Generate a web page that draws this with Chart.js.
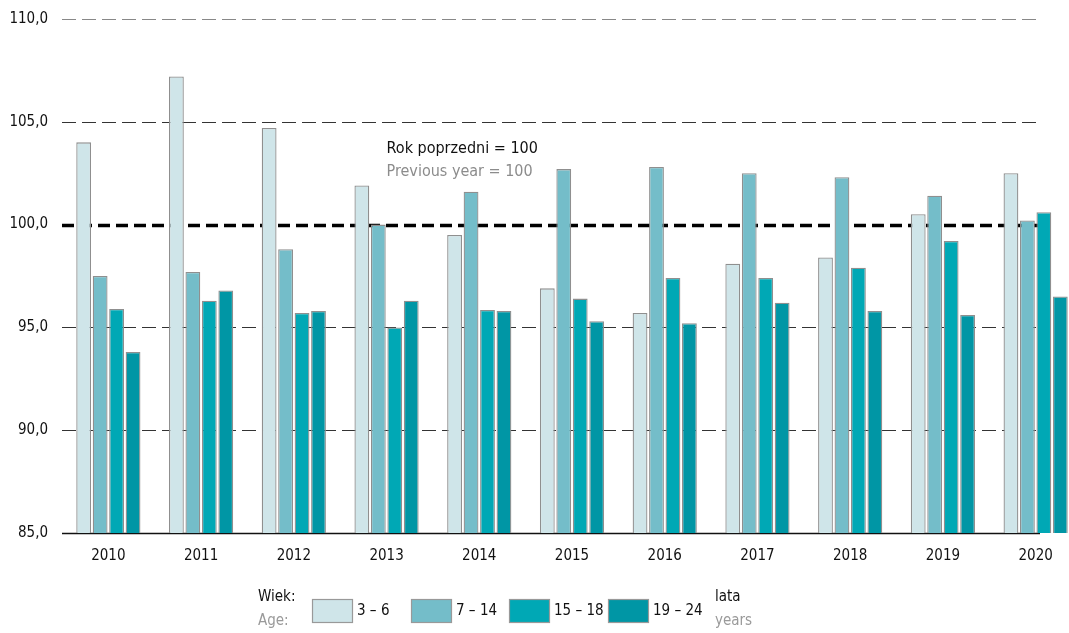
<!DOCTYPE html>
<html>
<head>
<meta charset="utf-8">
<script src="https://cdn.jsdelivr.net/npm/chart.js@4/dist/chart.umd.min.js"></script>
<style>
  html, body { margin: 0; padding: 0; background: #fff; overflow: hidden; }
  #wrap { width: 1082px; height: 633px; position: relative; }
</style>
</head>
<body>
<div id="wrap"><canvas id="chart"></canvas></div>
<script>
// data
const years = ['2010', '2011', '2012', '2013', '2014', '2015', '2016', '2017', '2018', '2019', '2020']
const age3to6 = [104.0, 107.2, 104.7, 101.9, 99.5, 96.9, 95.7, 98.1, 98.4, 100.5, 102.5]
const age7to14 = [97.5, 97.7, 98.8, 100.0, 101.6, 102.7, 102.8, 102.5, 102.3, 101.4, 100.2]
const age15to18 = [95.9, 96.3, 95.7, 95.0, 95.85, 96.4, 97.4, 97.4, 97.9, 99.2, 100.6]
const age19to24 = [93.8, 96.8, 95.8, 96.3, 95.8, 95.3, 95.2, 96.2, 95.8, 95.6, 96.5]
const seriesLabels = ['3 – 6', '7 – 14', '15 – 18', '19 – 24']
const seriesColors = ['#cfe5e9', '#74bdc9', '#00a8b5', '#0096a5']
const yTicks = [85, 90, 95, 100, 105, 110]
const baseLine = 100

const FONT = "'Liberation Sans Narrow', 'DejaVu Sans Condensed', 'Roboto', sans-serif"

const gridPlugin = {
  id: 'grid',
  beforeDatasetsDraw(chart) {
    const ctx = chart.ctx
    const y = chart.scales.y
    const left = chart.chartArea.left
    const right = chart.chartArea.right - 42
    ctx.save()
    yTicks.forEach(v => {
      const py = Math.round(y.getPixelForValue(v)) + 0.5
      ctx.beginPath()
      if (v === yTicks[0]) {
        ctx.setLineDash([])
        ctx.lineWidth = 1.5
        ctx.strokeStyle = '#111'
      } else if (v === baseLine) {
        ctx.setLineDash([12, 6])
        ctx.lineWidth = 3.5
        ctx.strokeStyle = '#000'
      } else {
        ctx.setLineDash([14, 6])
        ctx.lineWidth = 1
        ctx.strokeStyle = v === yTicks[yTicks.length - 1] ? '#888' : '#333'
      }
      ctx.moveTo(left, py)
      ctx.lineTo(right, py)
      ctx.stroke()
    })
    ctx.restore()
  },
  afterDraw(chart) {
    const ctx = chart.ctx
    const x = chart.scales.x
    const y = chart.scales.y
    ctx.save()
    // note above 2013
    const nx = x.getPixelForValue(3)
    ctx.textBaseline = 'middle'
    ctx.textAlign = 'left'
    ctx.font = '16px ' + FONT
    ctx.fillStyle = '#111'
    ctx.fillText('Rok poprzedni = 100', nx, y.getPixelForValue(103.7))
    ctx.fillStyle = '#8c8c8c'
    ctx.fillText('Previous year = 100', nx, y.getPixelForValue(102.55))

    // legend
    const top = 599
    ctx.font = '15px ' + FONT
    ctx.fillStyle = '#111'
    ctx.fillText('Wiek:', 258, 597)
    ctx.fillStyle = '#9a9a9a'
    ctx.fillText('Age:', 258, 621)
    const boxX = [312, 411, 509, 608]
    seriesLabels.forEach((lab, i) => {
      ctx.fillStyle = seriesColors[i]
      ctx.fillRect(boxX[i], top, 40, 23)
      ctx.strokeStyle = '#999'
      ctx.lineWidth = 1.2
      ctx.strokeRect(boxX[i] + 0.5, top + 0.5, 40, 23)
      ctx.fillStyle = '#111'
      ctx.fillText(lab, boxX[i] + 45, top + 12)
    })
    ctx.fillStyle = '#111'
    ctx.fillText('lata', 715, 597)
    ctx.fillStyle = '#9a9a9a'
    ctx.fillText('years', 715, 621)
    ctx.restore()
  }
}

const series = [age3to6, age7to14, age15to18, age19to24]

new Chart(document.getElementById('chart'), {
  type: 'bar',
  data: {
    labels: years,
    datasets: series.map((d, i) => ({
      label: seriesLabels[i],
      data: d,
      backgroundColor: seriesColors[i],
      borderColor: '#8f8f8f',
      borderWidth: 1.3,
      borderSkipped: 'bottom',
      categoryPercentage: 0.71,
      barPercentage: 0.9
    }))
  },
  options: {
    responsive: true,
    maintainAspectRatio: false,
    animation: false,
    layout: { padding: { top: 19, right: 0, left: 0, bottom: 0 } },
    plugins: {
      legend: { display: false },
      tooltip: { enabled: false }
    },
    scales: {
      x: {
        offset: true,
        grid: { display: false, drawTicks: false },
        border: { display: false },
        ticks: { color: '#111', font: { family: FONT, size: 15 }, padding: 14 },
        afterFit(scale) { scale.height = 100 }
      },
      y: {
        min: 85,
        max: 110,
        grid: { display: false, drawTicks: false },
        border: { display: false },
        ticks: {
          stepSize: 5,
          color: '#111',
          padding: 14,
          font: { family: FONT, size: 15 },
          callback: v => v.toFixed(1).replace('.', ',')
        },
        afterFit(scale) {
          scale.width = 62
          scale.paddingTop = 0
          scale.paddingBottom = 0
        }
      }
    }
  },
  plugins: [gridPlugin]
})
</script>
</body>
</html>
